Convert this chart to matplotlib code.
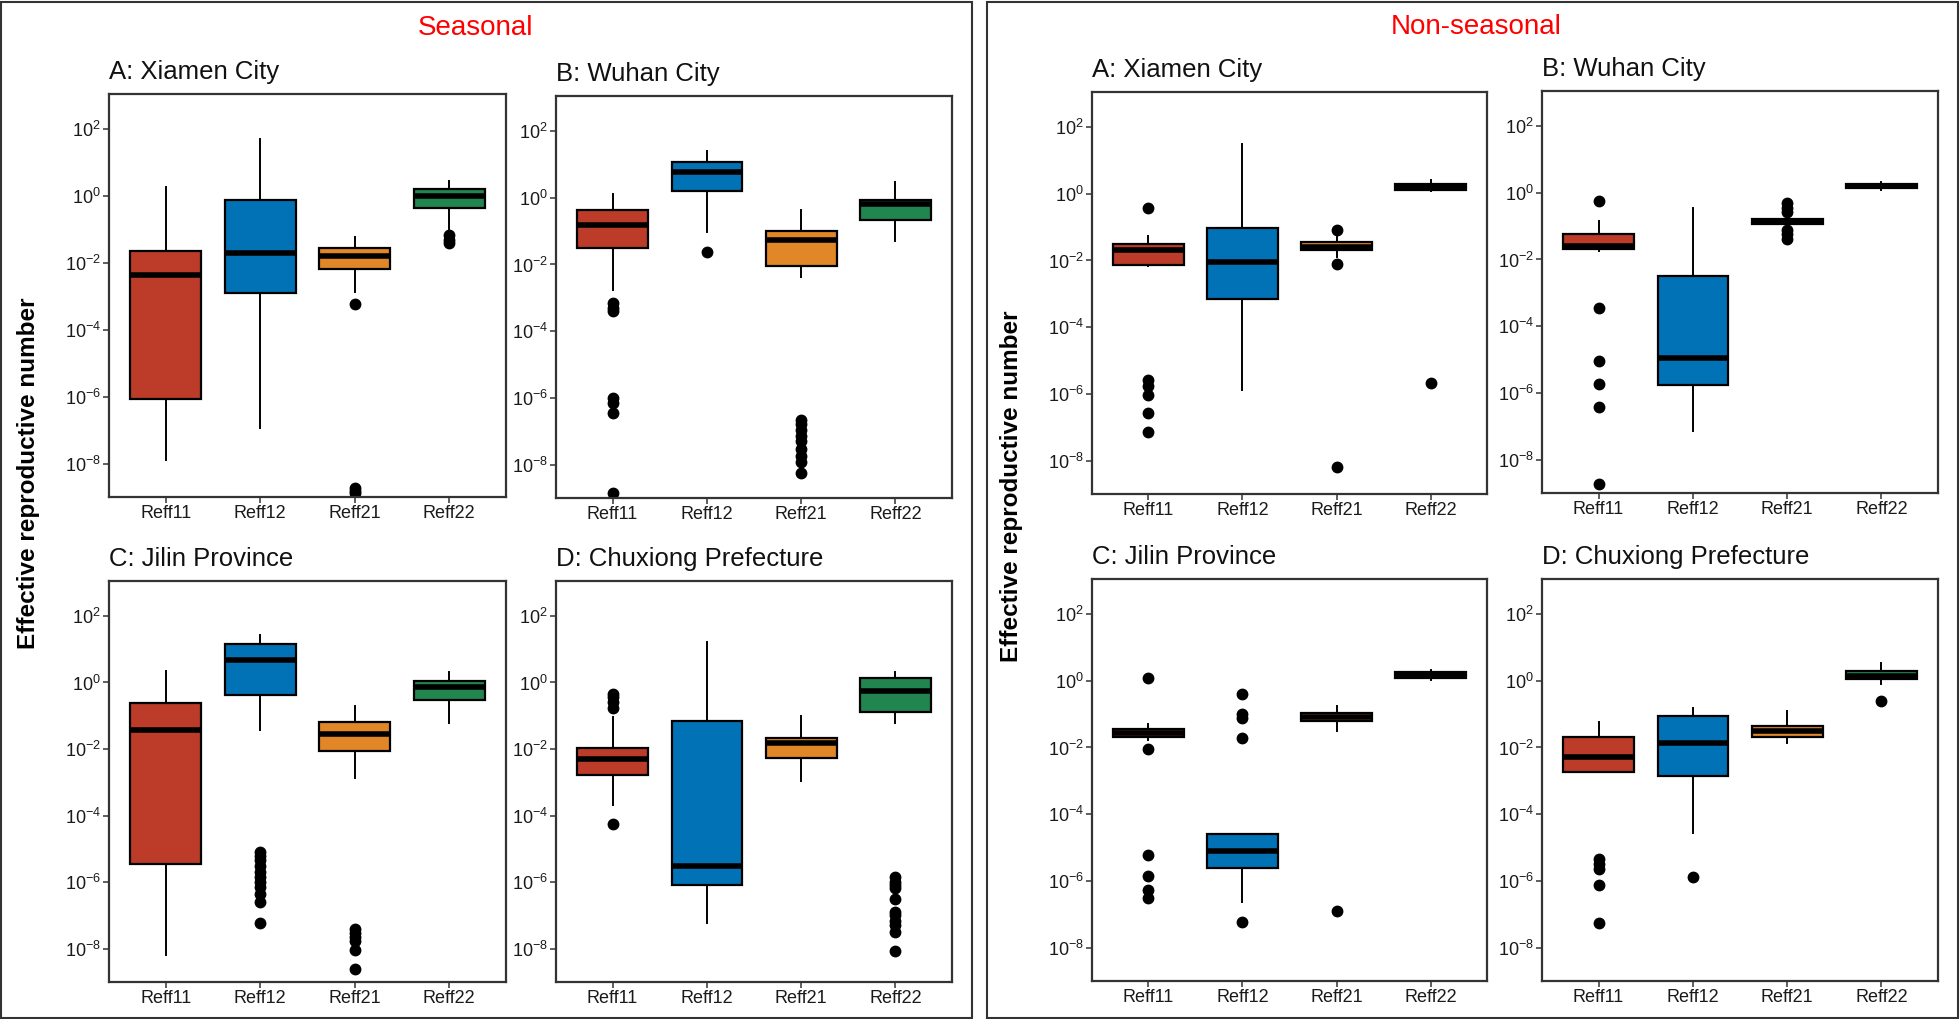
import numpy as np
import matplotlib
matplotlib.use("Agg")
import matplotlib.pyplot as plt
from matplotlib.patches import Rectangle
from matplotlib.ticker import FixedLocator, FuncFormatter, NullLocator

plt.rcParams["font.family"] = ["Liberation Sans", "DejaVu Sans"]
plt.rcParams["mathtext.fontset"] = "custom"
plt.rcParams["mathtext.rm"] = "Liberation Sans"
plt.rcParams["mathtext.it"] = "Liberation Sans:italic"
plt.rcParams["mathtext.bf"] = "Liberation Sans:bold"
plt.rcParams["mathtext.default"] = "regular"

categories = ["Reff11", "Reff12", "Reff21", "Reff22"]
colors = ["#BC3C29", "#0072B5", "#E18727", "#20854E"]

# box stats per category: [whislo, q1, median, q3, whishi]
# --- Seasonal ---
s_xiamen_box = [[1.26e-8, 8.3e-7, 4.3e-3, 2.2e-2, 1.9],
                [1.17e-7, 1.25e-3, 2.0e-2, 0.74, 52],
                [1.34e-3, 6.5e-3, 1.66e-2, 2.8e-2, 5.9e-2],
                [0.095, 0.44, 0.99, 1.57, 2.9]]
s_xiamen_out = [[], [], [5.9e-4, 1.8e-9, 1.5e-9, 1.3e-9], [0.067, 0.05, 0.04]]

s_wuhan_box = [[1.7e-3, 0.032, 0.148, 0.44, 1.3],
               [0.091, 1.6, 5.9, 11.8, 25.7],
               [4.2e-3, 9.3e-3, 0.055, 0.1, 0.44],
               [0.05, 0.22, 0.67, 0.87, 3.0]]
s_wuhan_out = [[6.9e-4, 5e-4, 3.9e-4, 1e-6, 7e-7, 3.5e-7, 1.4e-9],
               [0.023],
               [2.2e-7, 1.6e-7, 1.1e-7, 7e-8, 5e-8, 3e-8, 1.8e-8, 1.2e-8, 5.6e-9],
               []]

s_jilin_box = [[6.6e-9, 3.5e-6, 0.037, 0.25, 2.2],
               [0.037, 0.41, 4.7, 14, 26],
               [1.35e-3, 8.7e-3, 0.029, 0.064, 0.19],
               [0.062, 0.29, 0.72, 1.1, 2.1]]
s_jilin_out = [[],
               [8e-6, 6e-6, 4.5e-6, 3e-6, 2e-6, 1.4e-6, 1e-6, 7e-7, 4.5e-7, 2.5e-7, 5.9e-8],
               [4e-8, 3e-8, 2.3e-8, 1.7e-8, 9e-9, 2.4e-9],
               []]

s_chuxiong_box = [[2.1e-4, 1.7e-3, 5.1e-3, 0.011, 0.093],
                  [5.9e-8, 8e-7, 3e-6, 0.069, 16.6],
                  [1.1e-3, 5.5e-3, 0.0155, 0.022, 0.098],
                  [0.062, 0.13, 0.56, 1.35, 2.1]]
s_chuxiong_out = [[0.45, 0.36, 0.26, 0.17, 5.6e-5],
                  [],
                  [],
                  [1.4e-6, 1e-6, 8e-7, 6.5e-7, 3.2e-7, 1.3e-7, 1e-7, 7e-8, 5.2e-8, 3.1e-8, 8.3e-9]]

# --- Non-seasonal ---
n_xiamen_box = [[6.6e-3, 7.2e-3, 0.020, 0.032, 0.056],
                [1.35e-6, 6.9e-4, 8.7e-3, 0.091, 30],
                [0.013, 0.021, 0.026, 0.036, 0.051],
                [1.17, 1.3, 1.55, 1.95, 2.6]]
n_xiamen_out = [[0.37, 2.7e-6, 1.7e-6, 9.5e-7, 2.7e-7, 7.4e-8], [], [0.083, 0.008, 6.6e-9], [2.1e-6]]

n_wuhan_box = [[0.018, 0.0205, 0.026, 0.06, 0.145],
               [7.4e-8, 1.7e-6, 1.15e-5, 3.3e-3, 0.36],
               [0.1, 0.112, 0.135, 0.16, 0.2],
               [1.2, 1.4, 1.58, 1.8, 2.1]]
n_wuhan_out = [[0.58, 3.5e-4, 9e-6, 1.8e-6, 3.9e-7, 1.9e-9],
               [],
               [0.49, 0.36, 0.26, 0.075, 0.06, 0.041],
               []]

n_jilin_box = [[0.017, 0.021, 0.027, 0.035, 0.052],
               [2.3e-7, 2.4e-6, 7.9e-6, 2.6e-5, 2.6e-5],
               [0.032, 0.063, 0.083, 0.11, 0.18],
               [1.02, 1.23, 1.5, 1.8, 2.1]]
n_jilin_out = [[1.2, 9.1e-3, 5.9e-6, 1.45e-6, 5.5e-7, 3.1e-7],
               [0.40, 0.098, 0.074, 0.019, 6e-8],
               [1.26e-7],
               []]

n_chuxiong_box = [[1.8e-3, 1.8e-3, 5.2e-3, 0.021, 0.058],
                  [2.7e-5, 1.4e-3, 0.0132, 0.087, 0.155],
                  [0.014, 0.020, 0.032, 0.044, 0.126],
                  [0.81, 1.1, 1.35, 1.9, 3.5]]
n_chuxiong_out = [[4.4e-6, 3.3e-6, 2.2e-6, 7.8e-7, 5.6e-8], [1.3e-6], [], [0.24]]

titles = ["A: Xiamen City", "B: Wuhan City", "C: Jilin Province", "D: Chuxiong Prefecture"]

W, H = 1960, 1019
fig = plt.figure(figsize=(W / 100, H / 100), dpi=100)


def px_axes(x0, x1, y0, y1):
    # pixel box (top-left origin) -> figure axes
    return fig.add_axes([x0 / W, 1 - y1 / H, (x1 - x0) / W, (y1 - y0) / H])


def draw_panel(ax, box, out, title):
    stats = []
    for i, cat in enumerate(categories):
        lo, q1, med, q3, hi = box[i]
        stats.append(dict(whislo=lo, q1=q1, med=med, q3=q3, whishi=hi,
                          fliers=np.array(out[i]), label=cat))
    ax.set_yscale("log")
    bp = ax.bxp(stats, positions=[1, 2, 3, 4], widths=0.75, patch_artist=True,
                showcaps=False,
                boxprops=dict(edgecolor="black", linewidth=1.6),
                medianprops=dict(color="black", linewidth=4),
                whiskerprops=dict(color="black", linewidth=1.4),
                flierprops=dict(marker="o", markerfacecolor="black",
                                markeredgecolor="black", markersize=7.5))
    for patch, c in zip(bp["boxes"], colors):
        patch.set_facecolor(c)
    ax.set_xlim(0.4, 4.6)
    ax.set_ylim(1e-9, 10 ** 3.05)
    ax.yaxis.set_major_locator(FixedLocator([1e-8, 1e-6, 1e-4, 1e-2, 1e0, 1e2]))
    ax.yaxis.set_minor_locator(NullLocator())
    ax.yaxis.set_major_formatter(FuncFormatter(lambda v, p: r"$10^{%d}$" % round(np.log10(v))))
    ax.tick_params(axis="both", labelsize=13, length=4, width=1.1, color="#333333",
                   labelcolor="#1a1a1a", pad=2)
    for s in ax.spines.values():
        s.set_linewidth(1.6)
        s.set_color("#333333")
    ax.text(0, 1.055, title, transform=ax.transAxes, ha="left", va="center",
            fontsize=18.5, color="#111111")


# seasonal panels (pixel boxes)
s_boxes = [(109, 506, 94, 497), (556, 952, 96, 498), (109, 506, 581, 982), (556, 952, 581, 982)]
n_boxes = [(1092, 1487, 92, 494), (1542, 1938, 91, 493), (1092, 1487, 579, 981), (1542, 1938, 579, 981)]

s_data = [(s_xiamen_box, s_xiamen_out), (s_wuhan_box, s_wuhan_out),
          (s_jilin_box, s_jilin_out), (s_chuxiong_box, s_chuxiong_out)]
n_data = [(n_xiamen_box, n_xiamen_out), (n_wuhan_box, n_wuhan_out),
          (n_jilin_box, n_jilin_out), (n_chuxiong_box, n_chuxiong_out)]

for pos, (box, out), t in zip(s_boxes, s_data, titles):
    draw_panel(px_axes(*pos), box, out, t)
for pos, (box, out), t in zip(n_boxes, n_data, titles):
    draw_panel(px_axes(*pos), box, out, t)

# outer frames
for x0, x1 in [(1, 972), (987, 1958)]:
    fig.add_artist(Rectangle((x0 / W, 1 / H), (x1 - x0) / W, (H - 3) / H,
                             transform=fig.transFigure, fill=False,
                             edgecolor="#333333", linewidth=1.5))

fig.text(476 / W, 1 - 28 / H, "Seasonal", color="red", fontsize=20, ha="center", va="center")
fig.text(1476 / W, 1 - 27 / H, "Non-seasonal", color="red", fontsize=20, ha="center", va="center")

fig.text(29 / W, 1 - 473 / H, "Effective reproductive number", rotation=90,
         fontsize=17.5, fontweight="bold", ha="center", va="center")
fig.text(1011 / W, 1 - 486 / H, "Effective reproductive number", rotation=90,
         fontsize=17.5, fontweight="bold", ha="center", va="center")

fig.savefig("out.png", dpi=100)
